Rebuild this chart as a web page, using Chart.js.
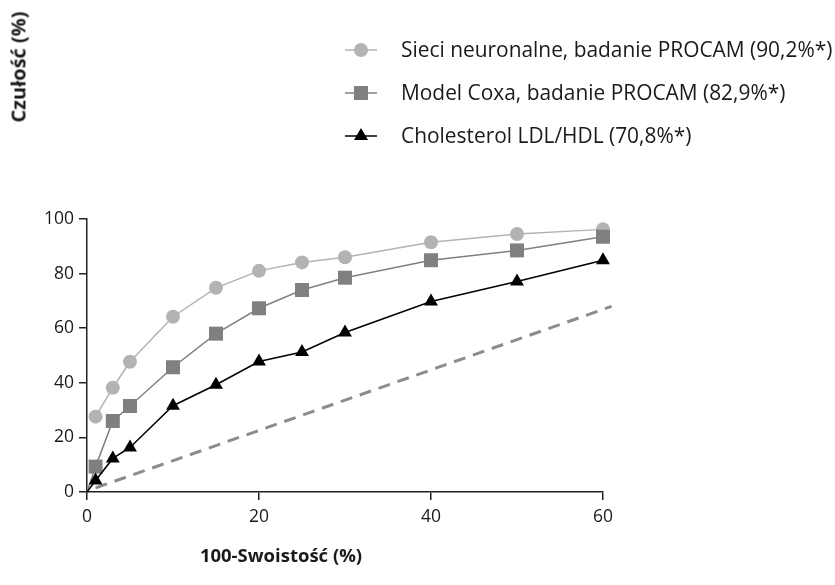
<!DOCTYPE html>
<html>
<head>
<meta charset="utf-8">
<script src="https://cdn.jsdelivr.net/npm/chart.js@4"></script>
<style>
  html, body { margin:0; padding:0; background:#fff; }
  #wrap { position:relative; width:835px; height:585px; overflow:hidden; }
  #c { position:absolute; left:0; top:0; }
  .leg { position:absolute; left:343px; height:24px; font-family:"Open Sans", sans-serif; font-size:20.9px; color:#1a1a1a; white-space:nowrap; }
  .leg svg { position:absolute; left:0; top:0; }
  .leg span { position:absolute; left:58px; top:-1px; line-height:24px; }
  #ytitle { position:absolute; left:18px; top:67px; transform:translate(-50%,-50%) rotate(-90deg); font-family:"Open Sans", sans-serif; font-weight:bold; font-size:20px; color:#1a1a1a; white-space:nowrap; }
  #xtitle { position:absolute; left:281px; top:554px; transform:translate(-50%,-50%); font-family:"Open Sans", sans-serif; font-weight:bold; font-size:18.5px; color:#1a1a1a; white-space:nowrap; }
</style>
</head>
<body>
<div id="wrap">
  <canvas id="c" width="835" height="585"></canvas>
  <div class="leg" style="top:38px"><svg width="36" height="24"><line x1="2" y1="12" x2="34" y2="12" stroke="#b3b3b3" stroke-width="1.5"/><circle cx="18" cy="12" r="7" fill="#b3b3b3"/></svg><span id="l0"></span></div>
  <div class="leg" style="top:81px"><svg width="36" height="24"><line x1="2" y1="12" x2="34" y2="12" stroke="#808080" stroke-width="1.5"/><rect x="11" y="5" width="14" height="14" fill="#808080"/></svg><span id="l1"></span></div>
  <div class="leg" style="top:124px"><svg width="36" height="24"><line x1="2" y1="12" x2="34" y2="12" stroke="#000" stroke-width="1.5"/><polygon points="18,4 25,16 11,16" fill="#000"/></svg><span id="l2"></span></div>
  <div id="ytitle"></div>
  <div id="xtitle"></div>
</div>
<script>
// ---- data ----
const seriesNames = [
  "Sieci neuronalne, badanie PROCAM (90,2%*)",
  "Model Coxa, badanie PROCAM (82,9%*)",
  "Cholesterol LDL/HDL (70,8%*)"
];
const yAxisTitle = "Czułość (%)";
const xAxisTitle = "100-Swoistość (%)";

const xNeural = [1, 3, 5, 10, 15, 20, 25, 30, 40, 50, 60];
const yNeural = [27.6, 38.2, 47.7, 64.2, 74.8, 81, 84.1, 86, 91.5, 94.5, 96.2];

const xCox = [0, 1, 3, 5, 10, 15, 20, 25, 30, 40, 50, 60];
const yCox = [0, 9.3, 26, 31.5, 45.7, 58, 67.3, 74, 78.5, 84.9, 88.5, 93.5];

const xChol = [0, 1, 3, 5, 10, 15, 20, 25, 30, 40, 50, 60];
const yChol = [0, 4.2, 12.3, 16.3, 31.6, 39.3, 47.8, 51.3, 58.4, 69.8, 77.1, 84.9];

const xRef = [1, 61];
const yRef = [1.5, 68];

const xTicks = [0, 20, 40, 60];
const yTicks = [0, 20, 40, 60, 80, 100];

// ---- build ----
document.getElementById('l0').textContent = seriesNames[0];
document.getElementById('l1').textContent = seriesNames[1];
document.getElementById('l2').textContent = seriesNames[2];
document.getElementById('ytitle').textContent = yAxisTitle;
document.getElementById('xtitle').textContent = xAxisTitle;

const pts = (xs, ys) => xs.map((x, i) => ({x: x, y: ys[i]}));
const radii = (xs, r) => xs.map(x => x === 0 ? 0 : r);

const chart = new Chart(document.getElementById('c'), {
  type: 'line',
  data: {
    datasets: [
      {
        label: seriesNames[2], data: pts(xChol, yChol), order: 0,
        borderColor: '#000', backgroundColor: '#000', borderWidth: 1.5,
        pointStyle: 'triangle', pointRadius: radii(xChol, 8), pointBorderWidth: 0,
        pointBackgroundColor: '#000', tension: 0, clip: false
      },
      {
        label: seriesNames[1], data: pts(xCox, yCox), order: 1,
        borderColor: '#808080', backgroundColor: '#808080', borderWidth: 1.5,
        pointStyle: 'rect', pointRadius: radii(xCox, 9.9), pointBorderWidth: 0,
        pointBackgroundColor: '#808080', tension: 0, clip: false
      },
      {
        label: seriesNames[0], data: pts(xNeural, yNeural), order: 2,
        borderColor: '#b3b3b3', backgroundColor: '#b3b3b3', borderWidth: 1.5,
        pointStyle: 'circle', pointRadius: 7, pointBorderWidth: 0,
        pointBackgroundColor: '#b3b3b3', tension: 0, clip: false
      },
      {
        label: 'ref', data: pts(xRef, yRef), order: 3,
        borderColor: '#8c8c8c', borderWidth: 3, borderDash: [12, 8],
        pointRadius: 0, tension: 0, clip: false
      }
    ]
  },
  options: {
    responsive: false,
    animation: false,
    events: [],
    layout: { padding: { left: 0, top: 219, right: 232, bottom: 53 } },
    plugins: { legend: { display: false }, tooltip: { enabled: false }, title: { display: false } },
    scales: {
      x: {
        type: 'linear', min: 0, max: 60,
        afterFit: s => { s.height = 40; },
        afterBuildTicks: s => { s.ticks = xTicks.map(v => ({value: v})); },
        grid: { drawOnChartArea: false, drawTicks: true, tickLength: 8, color: '#222', lineWidth: 1.5 },
        border: { color: '#222', width: 1.5 },
        ticks: { color: '#1a1a1a', padding: 7, font: { family: 'Open Sans', size: 17.5 }, maxRotation: 0 }
      },
      y: {
        type: 'linear', min: 0, max: 100,
        afterFit: s => { s.width = 87; },
        afterBuildTicks: s => { s.ticks = yTicks.map(v => ({value: v})); },
        grid: { drawOnChartArea: false, drawTicks: true, tickLength: 8, color: '#222', lineWidth: 1.5 },
        border: { color: '#222', width: 1.5 },
        ticks: { color: '#1a1a1a', padding: 5, font: { family: 'Open Sans', size: 17.5 } }
      }
    }
  }
});
</script>
</body>
</html>
